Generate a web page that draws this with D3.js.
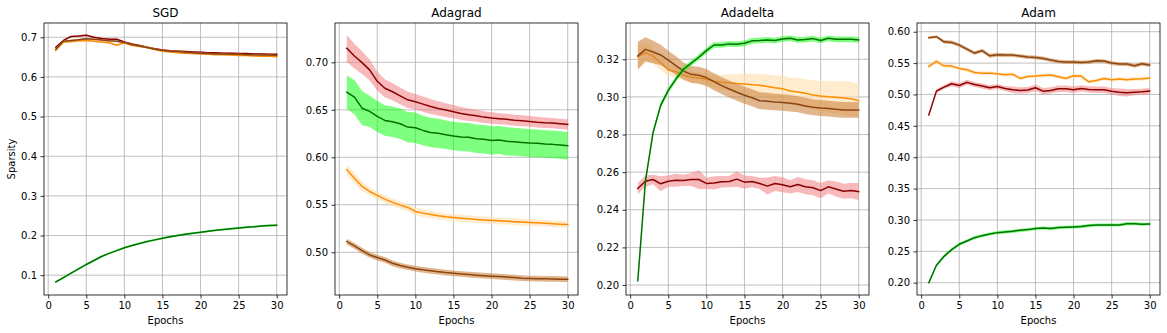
<!DOCTYPE html>
<html>
<head>
<meta charset="utf-8">
<script src="https://cdn.jsdelivr.net/npm/d3@7"></script>
<style>
  html, body { margin: 0; padding: 0; background: #fff; }
  svg { display: block; }
  text { font-family: "DejaVu Sans", sans-serif; }
</style>
</head>
<body>
<svg id="chart" width="1167" height="333"></svg>
<script>
// ---------------- DATA ----------------
const epochs = [1,2,3,4,5,6,7,8,9,10,11,12,13,14,15,16,17,18,19,20,21,22,23,24,25,26,27,28,29,30];
const optimizers = ["SGD", "Adagrad", "Adadelta", "Adam"];
const xTicks = [0, 5, 10, 15, 20, 25, 30];
const xLabel = "Epochs";
const yLabel = "Sparsity";

const sgdTicks = [0.1, 0.2, 0.3, 0.4, 0.5, 0.6, 0.7];
const adagradTicks = [0.50, 0.55, 0.60, 0.65, 0.70];
const adadeltaTicks = [0.20, 0.22, 0.24, 0.26, 0.28, 0.30, 0.32];
const adamTicks = [0.20, 0.25, 0.30, 0.35, 0.40, 0.45, 0.50, 0.55, 0.60];

// SGD
const sgdRed    = [0.675,0.692,0.702,0.703,0.705,0.700,0.697,0.695,0.695,0.688,0.683,0.679,0.675,0.671,0.668,0.666,0.665,0.664,0.663,0.662,0.661,0.661,0.660,0.660,0.659,0.659,0.658,0.658,0.657,0.657];
const sgdOrange = [0.667,0.688,0.689,0.691,0.692,0.690,0.688,0.686,0.680,0.686,0.679,0.677,0.674,0.669,0.665,0.663,0.661,0.660,0.659,0.658,0.657,0.656,0.656,0.655,0.654,0.654,0.653,0.652,0.652,0.651];
const sgdBrown  = [0.670,0.690,0.692,0.694,0.696,0.695,0.693,0.691,0.690,0.687,0.682,0.678,0.674,0.670,0.667,0.665,0.664,0.662,0.661,0.660,0.659,0.658,0.658,0.657,0.657,0.656,0.656,0.655,0.655,0.654];
const sgdGreen  = [0.083,0.094,0.105,0.116,0.127,0.137,0.147,0.155,0.162,0.169,0.175,0.180,0.185,0.189,0.193,0.197,0.200,0.203,0.206,0.208,0.211,0.213,0.215,0.217,0.219,0.221,0.222,0.224,0.225,0.226];
const sgdRedSd    = [0.002,0.002,0.002,0.002,0.002,0.002,0.002,0.002,0.002,0.002,0.002,0.002,0.002,0.002,0.002,0.002,0.002,0.002,0.002,0.002,0.002,0.002,0.002,0.002,0.002,0.002,0.002,0.002,0.002,0.002];
const sgdOrangeSd = [0.002,0.002,0.002,0.002,0.002,0.002,0.002,0.002,0.002,0.002,0.002,0.002,0.002,0.002,0.002,0.002,0.002,0.002,0.002,0.002,0.002,0.002,0.002,0.002,0.002,0.002,0.002,0.002,0.002,0.002];
const sgdBrownSd  = [0.002,0.002,0.002,0.002,0.002,0.002,0.002,0.002,0.002,0.002,0.002,0.002,0.002,0.002,0.002,0.002,0.002,0.002,0.002,0.002,0.002,0.002,0.002,0.002,0.002,0.002,0.002,0.002,0.002,0.002];
const sgdGreenSd  = [0.0025,0.0025,0.0025,0.0025,0.0025,0.0025,0.0025,0.0025,0.0025,0.0025,0.0025,0.0025,0.0025,0.0025,0.0025,0.0025,0.0025,0.0025,0.0025,0.0025,0.0025,0.0025,0.0025,0.0025,0.0025,0.0025,0.0025,0.0025,0.0025,0.0025];

// Adagrad
const adagradRed    = [0.7147,0.7066,0.6997,0.6920,0.6800,0.6727,0.6690,0.6647,0.6605,0.6584,0.6560,0.6535,0.6514,0.6497,0.6480,0.6462,0.6448,0.6437,0.6423,0.6413,0.6406,0.6400,0.6390,0.6385,0.6378,0.6370,0.6364,0.6360,0.6353,0.6346];
const adagradOrange = [0.5870,0.5780,0.5694,0.5640,0.5599,0.5560,0.5525,0.5496,0.5472,0.5430,0.5412,0.5398,0.5384,0.5373,0.5366,0.5359,0.5352,0.5345,0.5340,0.5335,0.5331,0.5326,0.5322,0.5318,0.5314,0.5310,0.5305,0.5300,0.5296,0.5292];
const adagradBrown  = [0.5113,0.5067,0.5018,0.4972,0.4944,0.4919,0.4884,0.4860,0.4842,0.4827,0.4815,0.4805,0.4796,0.4786,0.4778,0.4771,0.4765,0.4759,0.4753,0.4748,0.4744,0.4739,0.4733,0.4727,0.4724,0.4722,0.4720,0.4719,0.4717,0.4716];
const adagradGreen  = [0.6685,0.6633,0.6517,0.6483,0.6430,0.6388,0.6374,0.6353,0.6318,0.6311,0.6283,0.6262,0.6252,0.6238,0.6224,0.6213,0.6210,0.6196,0.6189,0.6178,0.6182,0.6168,0.6164,0.6157,0.6150,0.6147,0.6140,0.6136,0.6130,0.6122];
const adagradRedSd    = [0.014,0.013,0.012,0.011,0.010,0.0095,0.009,0.0088,0.0085,0.0082,0.008,0.0078,0.0075,0.0072,0.007,0.0068,0.0066,0.0064,0.0062,0.006,0.0059,0.0058,0.0057,0.0057,0.0056,0.0056,0.0055,0.0055,0.0054,0.0054];
const adagradOrangeSd = [0.006,0.0055,0.005,0.0045,0.0042,0.004,0.004,0.004,0.004,0.004,0.004,0.0038,0.0038,0.0038,0.0037,0.0037,0.0037,0.0036,0.0036,0.0036,0.0036,0.0035,0.0035,0.0035,0.0035,0.0035,0.0035,0.0035,0.0035,0.0035];
const adagradBrownSd  = [0.003,0.003,0.003,0.003,0.003,0.003,0.003,0.003,0.003,0.003,0.003,0.003,0.003,0.003,0.003,0.003,0.003,0.003,0.003,0.003,0.003,0.003,0.003,0.003,0.003,0.003,0.003,0.003,0.003,0.003];
const adagradGreenSd  = [0.0175,0.018,0.018,0.0165,0.0165,0.016,0.016,0.016,0.016,0.016,0.0155,0.0155,0.0155,0.015,0.015,0.015,0.015,0.015,0.015,0.015,0.0148,0.0148,0.0147,0.0147,0.0146,0.0146,0.0145,0.0145,0.0145,0.0145];

// Adadelta
const adadeltaRed    = [0.2513,0.2552,0.2561,0.2538,0.2552,0.2557,0.2556,0.2561,0.2561,0.2540,0.2543,0.2549,0.2550,0.2563,0.2547,0.2550,0.2540,0.2526,0.2540,0.2533,0.2522,0.2534,0.2522,0.2517,0.2502,0.2522,0.2511,0.2499,0.2502,0.2497];
const adadeltaOrange = [0.3214,0.3235,0.3218,0.3182,0.3143,0.3134,0.3117,0.3104,0.3101,0.3094,0.3083,0.3078,0.3076,0.3072,0.3069,0.3065,0.3062,0.3056,0.3049,0.3044,0.3032,0.3026,0.3019,0.3010,0.3005,0.3001,0.2998,0.2994,0.2990,0.2980];
const adadeltaBrown  = [0.3218,0.3253,0.3239,0.3223,0.3196,0.3166,0.3138,0.3120,0.3115,0.3103,0.3081,0.3060,0.3042,0.3025,0.3009,0.2996,0.2980,0.2977,0.2973,0.2970,0.2966,0.2961,0.2952,0.2945,0.2941,0.2938,0.2934,0.2931,0.2931,0.2931];
const adadeltaGreen  = [0.2023,0.2552,0.2810,0.2955,0.3035,0.3095,0.3147,0.3179,0.3211,0.3246,0.3276,0.3276,0.3282,0.3280,0.3285,0.3298,0.3300,0.3303,0.3300,0.3308,0.3312,0.3303,0.3305,0.3310,0.3300,0.3312,0.3306,0.3306,0.3306,0.3303];
const adadeltaRedSd    = [0.003,0.003,0.0025,0.004,0.003,0.0035,0.003,0.0035,0.005,0.003,0.0035,0.003,0.003,0.004,0.0035,0.003,0.003,0.0045,0.004,0.004,0.0035,0.004,0.004,0.004,0.004,0.0035,0.004,0.004,0.004,0.0045];
const adadeltaOrangeSd = [0.006,0.005,0.004,0.004,0.003,0.003,0.003,0.003,0.003,0.003,0.0035,0.004,0.0045,0.005,0.0055,0.006,0.006,0.0065,0.0065,0.007,0.007,0.0075,0.0075,0.008,0.008,0.0085,0.0085,0.009,0.009,0.009];
const adadeltaBrownSd  = [0.0075,0.0064,0.006,0.0055,0.005,0.005,0.0045,0.0045,0.0045,0.0045,0.0045,0.0045,0.0045,0.0045,0.0045,0.0045,0.0045,0.0045,0.0044,0.0044,0.0044,0.0043,0.0043,0.0043,0.0043,0.0042,0.0042,0.0042,0.0042,0.0042];
const adadeltaGreenSd  = [0.0015,0.0015,0.0015,0.0015,0.0015,0.0015,0.0015,0.0015,0.0015,0.0015,0.0015,0.0015,0.0015,0.0015,0.0015,0.0015,0.0015,0.0015,0.0015,0.0015,0.0015,0.0015,0.0015,0.0015,0.0015,0.0015,0.0015,0.0015,0.0015,0.0015];

// Adam
const adamRed    = [0.4674,0.5053,0.5118,0.5171,0.5144,0.5193,0.5160,0.5134,0.5107,0.5128,0.5096,0.5075,0.5064,0.5070,0.5107,0.5053,0.5064,0.5091,0.5091,0.5075,0.5096,0.5080,0.5075,0.5075,0.5053,0.5037,0.5027,0.5037,0.5043,0.5053];
const adamOrange = [0.5447,0.5527,0.5457,0.5452,0.5415,0.5394,0.5351,0.5340,0.5340,0.5330,0.5314,0.5324,0.5255,0.5287,0.5293,0.5303,0.5309,0.5282,0.5255,0.5298,0.5293,0.5202,0.5223,0.5255,0.5234,0.5245,0.5234,0.5245,0.5250,0.5261];
const adamBrown  = [0.5904,0.5920,0.5840,0.5830,0.5787,0.5723,0.5660,0.5697,0.5617,0.5633,0.5628,0.5628,0.5612,0.5596,0.5590,0.5574,0.5548,0.5527,0.5516,0.5516,0.5510,0.5516,0.5537,0.5532,0.5500,0.5484,0.5484,0.5457,0.5489,0.5468];
const adamGreen  = [0.2000,0.2277,0.2420,0.2527,0.2612,0.2665,0.2718,0.2750,0.2777,0.2798,0.2809,0.2819,0.2835,0.2846,0.2862,0.2872,0.2862,0.2878,0.2883,0.2888,0.2894,0.2910,0.2920,0.2920,0.2920,0.2920,0.2941,0.2941,0.2931,0.2936];
const adamRedSd    = [0.002,0.003,0.003,0.004,0.004,0.004,0.004,0.004,0.004,0.004,0.004,0.005,0.005,0.005,0.005,0.005,0.005,0.005,0.005,0.005,0.005,0.005,0.005,0.005,0.005,0.006,0.006,0.005,0.005,0.005];
const adamOrangeSd = [0.003,0.004,0.003,0.003,0.003,0.003,0.003,0.003,0.003,0.003,0.003,0.003,0.003,0.003,0.003,0.003,0.003,0.003,0.003,0.003,0.003,0.003,0.003,0.003,0.003,0.003,0.003,0.003,0.003,0.003];
const adamBrownSd  = [0.002,0.002,0.003,0.003,0.003,0.003,0.003,0.003,0.003,0.003,0.003,0.003,0.003,0.003,0.003,0.003,0.003,0.003,0.003,0.003,0.003,0.003,0.003,0.003,0.003,0.003,0.003,0.003,0.003,0.003];
const adamGreenSd  = [0.0025,0.0025,0.0025,0.0025,0.0025,0.0025,0.0025,0.0025,0.0025,0.0025,0.0025,0.0025,0.0025,0.0025,0.0025,0.0025,0.0025,0.0025,0.0025,0.0025,0.0025,0.0025,0.0025,0.0025,0.0025,0.0025,0.0025,0.0025,0.0025,0.0025];

// ---------------- STYLE / LAYOUT ----------------
const palette = {
  red:    { line: "#8b0000", band: "#f08080", op: 0.55 },
  orange: { line: "#ff8c00", band: "#ffdead", op: 0.6 },
  brown:  { line: "#8b4513", band: "#cd853f", op: 0.6 },
  green:  { line: "#007000", band: "#00ff00", op: 0.5 }
};

const panels = [
  { title: optimizers[0], yDomain: [0.050, 0.736], ticks: sgdTicks, fmt: d3.format(".1f"),
    series: [["red", sgdRed, sgdRedSd], ["orange", sgdOrange, sgdOrangeSd], ["brown", sgdBrown, sgdBrownSd], ["green", sgdGreen, sgdGreenSd]] },
  { title: optimizers[1], yDomain: [0.455, 0.7414], ticks: adagradTicks, fmt: d3.format(".2f"),
    series: [["red", adagradRed, adagradRedSd], ["green", adagradGreen, adagradGreenSd], ["orange", adagradOrange, adagradOrangeSd], ["brown", adagradBrown, adagradBrownSd]] },
  { title: optimizers[2], yDomain: [0.1947, 0.3393], ticks: adadeltaTicks, fmt: d3.format(".2f"),
    series: [["red", adadeltaRed, adadeltaRedSd], ["orange", adadeltaOrange, adadeltaOrangeSd], ["brown", adadeltaBrown, adadeltaBrownSd], ["green", adadeltaGreen, adadeltaGreenSd]] },
  { title: optimizers[3], yDomain: [0.1804, 0.6139], ticks: adamTicks, fmt: d3.format(".2f"),
    series: [["red", adamRed, adamRedSd], ["orange", adamOrange, adamOrangeSd], ["brown", adamBrown, adamBrownSd], ["green", adamGreen, adamGreenSd]] }
];

const svg = d3.select("#chart");
svg.append("rect").attr("width", 1167).attr("height", 333).attr("fill", "#fff");

const firstLeft = 44, step = 291, pw = 243, plotTop = 23, plotBottom = 295;

panels.forEach((p, i) => {
  const left = firstLeft + i * step;
  const x = d3.scaleLinear().domain([-0.55, 31.35]).range([left, left + pw]);
  const y = d3.scaleLinear().domain(p.yDomain).range([plotBottom, plotTop]);
  const g = svg.append("g");

  const clipId = "clip" + i;
  g.append("clipPath").attr("id", clipId).append("rect")
    .attr("x", left).attr("y", plotTop).attr("width", pw).attr("height", plotBottom - plotTop);

  // grid
  g.append("g").selectAll("line").data(xTicks).join("line")
    .attr("x1", d => x(d)).attr("x2", d => x(d)).attr("y1", plotTop).attr("y2", plotBottom)
    .attr("stroke", "#b0b0b0").attr("stroke-width", 0.8);
  g.append("g").selectAll("line").data(p.ticks).join("line")
    .attr("x1", left).attr("x2", left + pw).attr("y1", d => y(d)).attr("y2", d => y(d))
    .attr("stroke", "#b0b0b0").attr("stroke-width", 0.8);

  const plot = g.append("g").attr("clip-path", `url(#${clipId})`);
  p.series.forEach(([key, vals, sd]) => {
    const c = palette[key];
    const data = epochs.map((e, k) => ({ e, v: vals[k], s: sd[k] }));
    plot.append("path").datum(data)
      .attr("d", d3.area().x(d => x(d.e)).y0(d => y(d.v - d.s)).y1(d => y(d.v + d.s)))
      .attr("fill", c.band).attr("fill-opacity", c.op).attr("stroke", "none");
    plot.append("path").datum(data)
      .attr("d", d3.line().x(d => x(d.e)).y(d => y(d.v)))
      .attr("fill", "none").attr("stroke", c.line).attr("stroke-width", 1.5)
      .attr("stroke-linejoin", "round").attr("stroke-linecap", "square");
  });

  // axes
  const xAxis = g.append("g").attr("transform", `translate(0,${plotBottom})`)
    .call(d3.axisBottom(x).tickValues(xTicks).tickSize(3.5).tickPadding(3.5).tickFormat(d3.format("d")));
  const yAxis = g.append("g").attr("transform", `translate(${left},0)`)
    .call(d3.axisLeft(y).tickValues(p.ticks).tickSize(3.5).tickPadding(3.5).tickFormat(p.fmt));
  [xAxis, yAxis].forEach(a => {
    a.select(".domain").remove();
    a.selectAll(".tick line").attr("stroke", "#000").attr("stroke-width", 0.8);
    a.selectAll("text").attr("font-family", "DejaVu Sans, sans-serif").attr("font-size", 10).attr("fill", "#000");
  });

  // spines
  g.append("rect").attr("x", left).attr("y", plotTop).attr("width", pw).attr("height", plotBottom - plotTop)
    .attr("fill", "none").attr("stroke", "#000").attr("stroke-width", 0.8);

  // title & labels
  g.append("text").attr("x", left + pw / 2).attr("y", 17).attr("text-anchor", "middle")
    .attr("font-size", 12).attr("font-weight", "normal").attr("fill", "#000").text(p.title);
  g.append("text").attr("x", left + pw / 2).attr("y", 324).attr("text-anchor", "middle")
    .attr("font-size", 10).attr("fill", "#000").text(xLabel);
  if (i === 0) {
    g.append("text").attr("transform", `translate(15,${(plotTop + plotBottom) / 2}) rotate(-90)`)
      .attr("text-anchor", "middle").attr("font-size", 10).attr("fill", "#000").text(yLabel);
  }
});
</script>
</body>
</html>
